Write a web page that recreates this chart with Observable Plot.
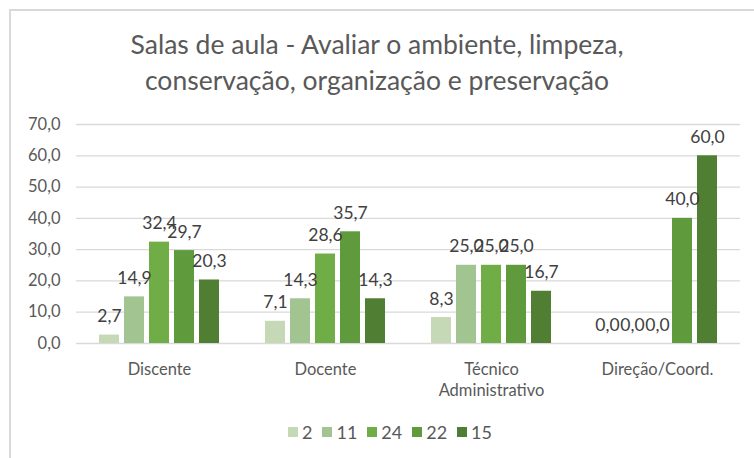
<!DOCTYPE html>
<html><head><meta charset="utf-8">
<script src="https://cdn.jsdelivr.net/npm/d3@7"></script>
<script src="https://cdn.jsdelivr.net/npm/@observablehq/plot@0.6"></script>
<style>
body{margin:0;background:#fff;font-family:Lato,"Open Sans",sans-serif;width:754px;height:458px;overflow:hidden;position:relative;}
#frame{position:absolute;left:9px;top:9px;width:800px;height:500px;border:2px solid #d9d9d9;}
#title{position:absolute;left:0;top:26px;width:754px;text-align:center;font-size:26.5px;line-height:36px;color:#595959;}
#chart{position:absolute;left:0;top:100px;}
#legend{position:absolute;left:13px;top:421px;width:754px;display:flex;justify-content:center;font-size:18px;color:#595959;}
#legend .it{display:flex;align-items:center;margin:0 5px;}
#legend .sw{width:10px;height:10px;margin-right:4px;}
</style></head>
<body>
<div id="frame"></div>
<div id="title">Salas de aula - Avaliar o ambiente, limpeza,<br>conservação, organização e preservação</div>
<div id="chart"></div>
<div id="legend"></div>
<script>
const categories = ["Discente", "Docente", "Técnico Administrativo", "Direção/Coord."];
const series = ["2", "11", "24", "22", "15"];
const values2  = [2.7, 7.1, 8.3, 0.0];
const values11 = [14.9, 14.3, 25.0, 0.0];
const values24 = [32.4, 28.6, 25.0, 0.0];
const values22 = [29.7, 35.7, 25.0, 40.0];
const values15 = [20.3, 14.3, 16.7, 60.0];
const yTicks = [0, 10, 20, 30, 40, 50, 60, 70];
const colors = ["#c5d9b7", "#a2c490", "#70ad47", "#5f9a3c", "#507f33"];

const seriesValues = [values2, values11, values24, values22, values15];
const data = [];
categories.forEach((c, i) => series.forEach((s, j) => data.push({cat: c, s, v: seriesValues[j][i]})));
const fmt = v => d3.format(".1f")(v).replace(".", ",");

const chart = Plot.plot({
  width: 754, height: 300,
  marginTop: 24, marginBottom: 57, marginLeft: 75, marginRight: 14,
  style: {fontFamily: "Lato, 'Open Sans', sans-serif", color: "#595959", background: "transparent"},
  fx: {domain: categories, padding: 0, label: null},
  x: {domain: series, paddingInner: 0.22, paddingOuter: 0.84, axis: null},
  y: {domain: [0, 70], label: null},
  color: {domain: series, range: colors},
  marks: [
    Plot.gridY(yTicks, {stroke: "#d9d9d9", strokeOpacity: 1, strokeWidth: 1.3}),
    Plot.axisY(yTicks, {tickSize: 0, tickPadding: 16, fontSize: 16.5, tickFormat: fmt, label: null}),
    Plot.axisFx({anchor: "bottom", tickSize: 0, tickPadding: 16, fontSize: 16.5, lineHeight: 1.3, label: null, tickFormat: d => d.replace(" ", "\n")}),
    Plot.barY(data, {fx: "cat", x: "s", y: "v", fill: "s"}),
    Plot.text(data, {fx: "cat", x: "s", y: "v", text: d => fmt(d.v), lineAnchor: "bottom", dy: -13, fontSize: 17.5, fill: "#404040"})
  ]
});
document.getElementById("chart").appendChild(chart);

const leg = document.getElementById("legend");
series.forEach((s, j) => {
  const it = document.createElement("div"); it.className = "it";
  const sw = document.createElement("div"); sw.className = "sw"; sw.style.background = colors[j];
  const t = document.createElement("span"); t.textContent = s;
  it.appendChild(sw); it.appendChild(t); leg.appendChild(it);
});
</script>
</body></html>
